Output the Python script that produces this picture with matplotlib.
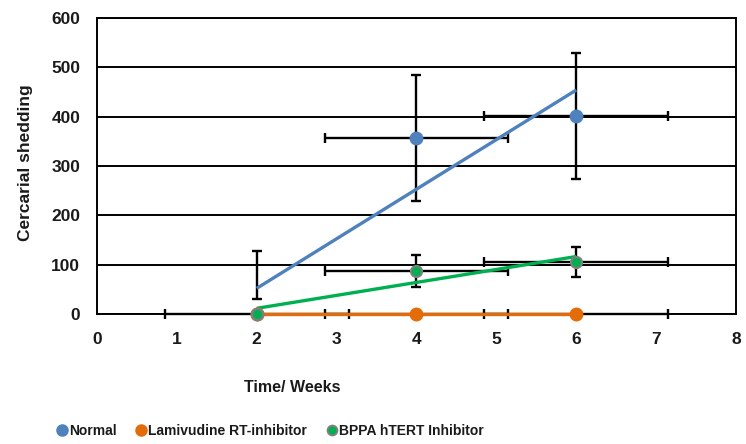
import numpy as np
import matplotlib
matplotlib.use("Agg")
import matplotlib.pyplot as plt
from matplotlib.lines import Line2D

plt.rcParams['font.family'] = ['Liberation Sans', 'DejaVu Sans']

weeks = [2, 4, 6]
series_names = ["Normal", "Lamivudine RT-inhibitor", "BPPA hTERT Inhibitor"]
normal = [0, 357, 402]
lamivudine = [0, 0, 0]
bppa = [0, 87, 105]
normal_yerr = [0, 128, 128]
lamivudine_yerr = [0, 0, 0]
bppa_yerr = [0, 32, 31]
xerr = [1.15, 1.15, 1.15]
# extra vertical error bar drawn at week 2 (lower, upper)
week2_bar = (30, 128)

colors = ["#4F81BD", "#E36C09", "#00B050"]

fig = plt.figure(figsize=(7.46, 4.44), dpi=100)
ax = fig.add_axes([0.130, 0.2928, 0.8566, 0.6667])

ax.set_xlim(0, 8)
ax.set_ylim(0, 600)
ax.set_yticks(range(0, 601, 100))
ax.set_xticks(range(0, 9))
ax.grid(axis='y', color='black', linewidth=1.4)
ax.set_axisbelow(True)
for s in ax.spines.values():
    s.set_linewidth(1.4)
    s.set_color('black')
ax.tick_params(length=0, labelsize=12.5, labelcolor='#1a1a1a')
ax.tick_params(axis='y', pad=12)
ax.tick_params(axis='x', pad=13)
for lab in ax.get_xticklabels() + ax.get_yticklabels():
    lab.set_fontweight('bold')

eb_kw = dict(fmt='none', ecolor='black', elinewidth=1.7, capsize=3.5, capthick=1.7, zorder=3)


def clip_off(container):
    for art in container.get_children():
        art.set_clip_on(False)


# week 2 extra error bar
mid = (week2_bar[0] + week2_bar[1]) / 2
ax.errorbar([weeks[0]], [mid], yerr=[[mid - week2_bar[0]], [week2_bar[1] - mid]], **eb_kw)

clip_off(ax.errorbar(weeks[1:], lamivudine[1:], xerr=xerr[1:], **eb_kw))
clip_off(ax.errorbar([weeks[0]], [lamivudine[0]], xerr=[xerr[0]], **eb_kw))
ax.errorbar(weeks[1:], normal[1:], xerr=xerr[1:], yerr=normal_yerr[1:], **eb_kw)
ax.errorbar(weeks[1:], bppa[1:], xerr=xerr[1:], yerr=bppa_yerr[1:], **eb_kw)

x = np.array(weeks, dtype=float)
xfit = np.array([x.min(), x.max()])
for vals, c in [(normal, colors[0]), (lamivudine, colors[1]), (bppa, colors[2])]:
    p = np.polyfit(x, vals, 1)
    ax.plot(xfit, np.polyval(p, xfit), color=c, linewidth=2.4, zorder=4,
            solid_capstyle='butt', clip_on=False)

ax.plot(weeks, normal, 'o', color=colors[0], markersize=9, zorder=5, clip_on=False)
ax.plot(weeks, lamivudine, 'o', color=colors[1], markersize=9, zorder=5, clip_on=False)
ax.plot(weeks, bppa, 'o', color=colors[2], markersize=8, markeredgecolor='#7F7F7F',
        markeredgewidth=1.5, zorder=6, clip_on=False)

ax.set_xlabel("Time/ Weeks", fontsize=11.5, fontweight='bold', color='#1a1a1a')
ax.xaxis.set_label_coords(0.305, -0.222)
ax.set_ylabel("Cercarial shedding", fontsize=12.5, fontweight='bold', color='#1a1a1a')
ax.yaxis.set_label_coords(-0.1, 0.51)

handles = [
    Line2D([], [], marker='o', linestyle='none', color=colors[0], markersize=8),
    Line2D([], [], marker='o', linestyle='none', color=colors[1], markersize=8),
    Line2D([], [], marker='o', linestyle='none', color=colors[2], markersize=7,
           markeredgecolor='#7F7F7F', markeredgewidth=1.4),
]
leg = fig.legend(handles, series_names, loc='center', bbox_to_anchor=(0.36, 0.029),
                 ncol=3, frameon=False, handletextpad=-0.1, columnspacing=1.2,
                 handlelength=1.2, borderpad=0, borderaxespad=0,
                 prop={'weight': 'bold', 'size': 10})
for t in leg.get_texts():
    t.set_color('#1a1a1a')

fig.savefig("out.png", dpi=100)
